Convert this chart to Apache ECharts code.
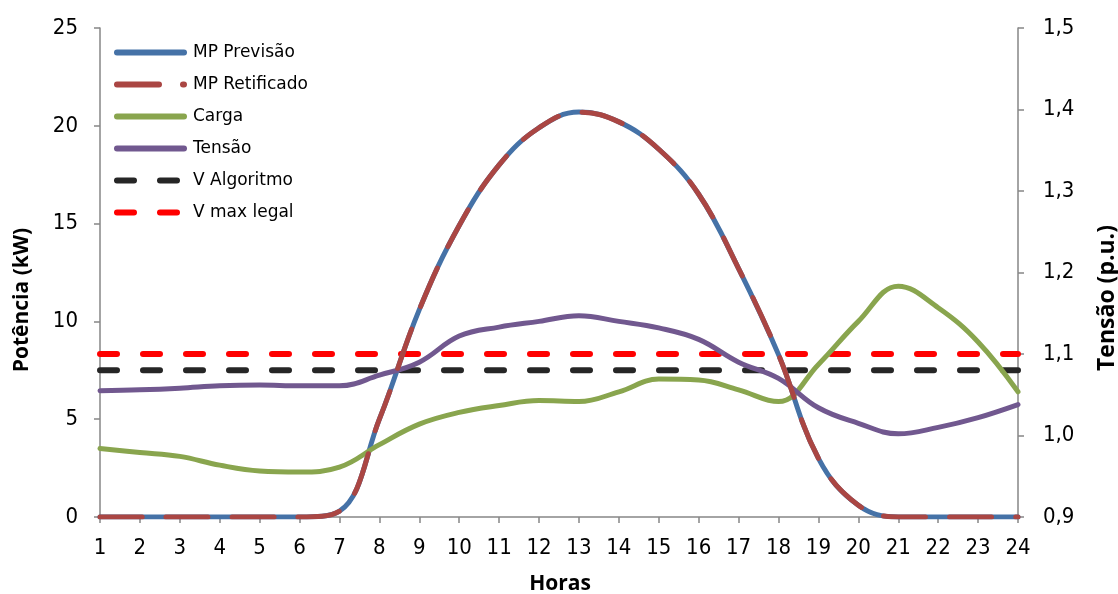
<!DOCTYPE html>
<html>
<head>
<meta charset="utf-8">
<script src="https://cdn.jsdelivr.net/npm/echarts@6/dist/echarts.min.js"></script>
<style>html,body{margin:0;padding:0;background:#fff}#c{width:1118px;height:594px}</style>
</head>
<body>
<div id="c"></div>
<script>
const hours = ['1','2','3','4','5','6','7','8','9','10','11','12','13','14','15','16','17','18','19','20','21','22','23','24'];
const mpPrevisao = [0,0,0,0,0,0,0.3,5.0,10.6,14.9,18.0,19.9,20.7,20.2,18.8,16.5,12.7,8.3,3.0,0.6,0,0,0,0];
const mpRetificado = [0,0,0,0,0,0,0.3,5.0,10.6,14.9,18.0,19.9,20.7,20.2,18.8,16.5,12.7,8.3,3.0,0.6,0,0,0,0];
const carga = [3.5,3.3,3.1,2.65,2.35,2.3,2.55,3.7,4.75,5.35,5.7,5.95,5.9,6.4,7.05,7.0,6.5,5.9,7.8,10.0,11.8,10.7,8.95,6.4];
const tensao = [1.055,1.056,1.058,1.061,1.062,1.061,1.061,1.074,1.090,1.122,1.133,1.140,1.147,1.140,1.132,1.118,1.090,1.070,1.034,1.015,1.002,1.010,1.022,1.038];
const vAlgoritmo = hours.map(() => 1.08);
const vMaxLegal = hours.map(() => 1.1);
const leftTicks = {min: 0, max: 25, interval: 5};
const rightTicks = {min: 0.9, max: 1.5, interval: 0.1};

const tickFont = 'DejaVu Sans Condensed, DejaVu Sans';
const axisGray = '#868686';

const chart = echarts.init(document.getElementById('c'), null, {renderer: 'canvas'});
chart.setOption({
  animation: false,
  backgroundColor: '#fff',
  grid: {left: 100, right: 100, top: 28, bottom: 77, containLabel: false},
  legend: {
    orient: 'vertical', left: 109, top: 39,
    itemWidth: 67, itemHeight: 14, itemGap: 15,
    itemStyle: {opacity: 0},
    lineStyle: {width: 6, cap: 'round'},
    textStyle: {fontFamily: 'DejaVu Sans', fontSize: 17, color: '#000', padding: [0, 0, 0, 4]},
    data: ['MP Previsão','MP Retificado','Carga','Tensão','V Algoritmo','V max legal']
  },
  xAxis: {
    type: 'category', data: hours, boundaryGap: false,
    axisLine: {lineStyle: {color: axisGray, width: 1.5}},
    axisTick: {show: true, length: 6, lineStyle: {color: axisGray, width: 1.5}, interval: 0},
    axisLabel: {fontFamily: tickFont, fontSize: 22, color: '#000', margin: 20, interval: 0},
    splitLine: {show: false}
  },
  yAxis: [{
    type: 'value', min: leftTicks.min, max: leftTicks.max, interval: leftTicks.interval,
    axisLine: {show: true, lineStyle: {color: axisGray, width: 1.5}},
    axisTick: {show: true, length: 6, lineStyle: {color: axisGray, width: 1.5}},
    axisLabel: {fontFamily: tickFont, fontSize: 22, color: '#000', margin: 22},
    splitLine: {show: false}
  },{
    type: 'value', min: rightTicks.min, max: rightTicks.max, interval: rightTicks.interval, position: 'right',
    axisLine: {show: true, lineStyle: {color: axisGray, width: 1.5}},
    axisTick: {show: true, length: 6, lineStyle: {color: axisGray, width: 1.5}},
    axisLabel: {fontFamily: tickFont, fontSize: 22, color: '#000', margin: 25,
      formatter: v => v.toFixed(1).replace('.', ',')},
    splitLine: {show: false}
  }],
  graphic: [
    {type: 'text', x: 22, y: 300, rotation: Math.PI/2, style: {text: 'Potência (kW)', font: 'bold 21px "Open Sans"', fill: '#000', align: 'center', verticalAlign: 'middle'}},
    {type: 'text', x: 1107, y: 298, rotation: Math.PI/2, style: {text: 'Tensão (p.u.)', font: 'bold 23px "Open Sans"', fill: '#000', align: 'center', verticalAlign: 'middle'}},
    {type: 'text', x: 560, y: 584, style: {text: 'Horas', font: 'bold 21px "Open Sans"', fill: '#000', align: 'center', verticalAlign: 'middle'}}
  ],
  series: [
    {name: 'MP Previsão', type: 'line', data: mpPrevisao, smooth: 0.4, showSymbol: false, symbol: 'none',
      color: '#4572A7', lineStyle: {color: '#4572A7', width: 5, cap: 'round'}, z: 2},
    {name: 'MP Retificado', type: 'line', data: mpRetificado, smooth: 0.4, showSymbol: false, symbol: 'none',
      color: '#AA4643', lineStyle: {color: '#AA4643', width: 5, type: [42, 24], cap: 'round'}, z: 3},
    {name: 'Carga', type: 'line', data: carga, smooth: 0.4, showSymbol: false, symbol: 'none',
      color: '#89A54E', lineStyle: {color: '#89A54E', width: 5, cap: 'round'}, z: 2},
    {name: 'Tensão', type: 'line', yAxisIndex: 1, data: tensao, smooth: 0.4, showSymbol: false, symbol: 'none',
      color: '#71588F', lineStyle: {color: '#71588F', width: 5, cap: 'round'}, z: 2},
    {name: 'V Algoritmo', type: 'line', yAxisIndex: 1, data: vAlgoritmo, showSymbol: false, symbol: 'none',
      color: '#262626', lineStyle: {color: '#262626', width: 6, type: [17, 26], cap: 'round'}, z: 1},
    {name: 'V max legal', type: 'line', yAxisIndex: 1, data: vMaxLegal, showSymbol: false, symbol: 'none',
      color: '#FF0000', lineStyle: {color: '#FF0000', width: 6, type: [17, 26], cap: 'round'}, z: 1}
  ]
});
</script>
</body>
</html>
